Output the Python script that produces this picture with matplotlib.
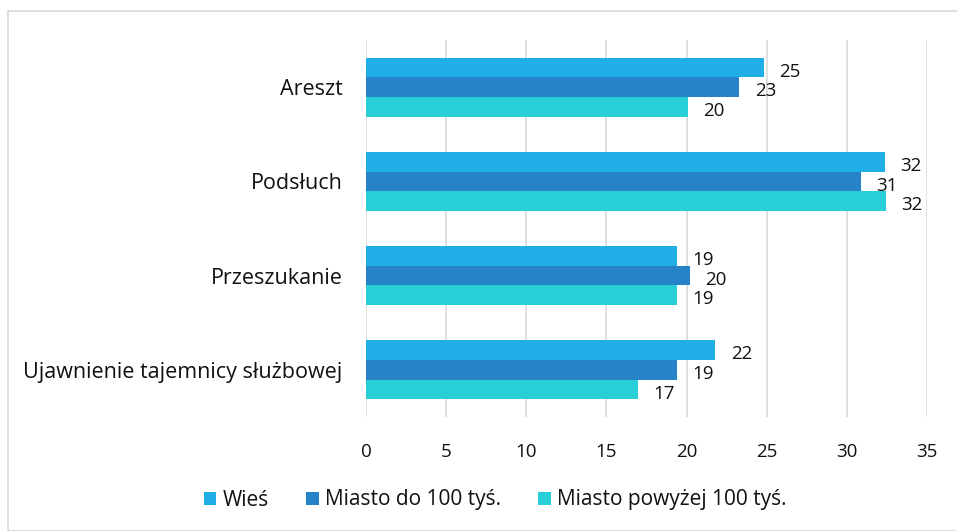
import numpy as np
import matplotlib.pyplot as plt
from matplotlib.patches import Rectangle

categories = ['Areszt', 'Podsłuch', 'Przeszukanie', 'Ujawnienie tajemnicy służbowej']
series = ['Wieś', 'Miasto do 100 tyś.', 'Miasto powyżej 100 tyś.']
wies = [24.8, 32.4, 19.4, 21.8]
miasto_do_100 = [23.3, 30.9, 20.2, 19.4]
miasto_pow_100 = [20.1, 32.45, 19.4, 17.0]
colors = ['#1FAEE5', '#2783C7', '#29CFD7']

plt.rcParams['font.family'] = ['Open Sans', 'DejaVu Sans']

fig = plt.figure(figsize=(9.57, 5.31), dpi=100)
ax = fig.add_axes([366 / 957, 1 - 417 / 531, 561 / 957, 377 / 531])

# ramka wykresu
fig.patches.append(Rectangle((8 / 957, 0), 1.0, 1 - 11 / 531, transform=fig.transFigure,
                             fill=False, edgecolor='#D9D9D9', linewidth=1.2))

y = np.arange(len(categories))
h = 0.625 / 3
data = [wies, miasto_do_100, miasto_pow_100]
for i, (vals, name) in enumerate(zip(data, series)):
    pos = y + (i - 1) * h
    bars = ax.barh(pos, vals, height=h, color=colors[i], label=name, zorder=3)
    for b, v in zip(bars, vals):
        ax.annotate(f'{v:.0f}', (v, b.get_y() + h / 2), xytext=(11, -3),
                    textcoords='offset points', va='center', ha='left',
                    fontsize=13.5, color='#111111')

ax.set_ylim(len(categories) - 0.5, -0.5)
ax.set_xlim(0, 35)
ax.set_xticks(range(0, 36, 5))
ax.set_yticks(y)
ax.set_yticklabels(categories, fontsize=15.5, color='#111111')
ax.tick_params(axis='x', length=0, pad=19, labelsize=13.5, labelcolor='#111111')
ax.tick_params(axis='y', length=0, pad=17)
ax.grid(axis='x', color='#D9D9D9', linewidth=1.2, zorder=0)
for s in ax.spines.values():
    s.set_visible(False)

ax.legend(loc='center', bbox_to_anchor=(495 / 957, 1 - 500 / 531), bbox_transform=fig.transFigure,
          ncol=3, frameon=False, fontsize=15, handlelength=0.6, handleheight=0.6,
          handletextpad=0.3, columnspacing=1.8, labelcolor='#111111')

plt.savefig('out.png', dpi=100)
